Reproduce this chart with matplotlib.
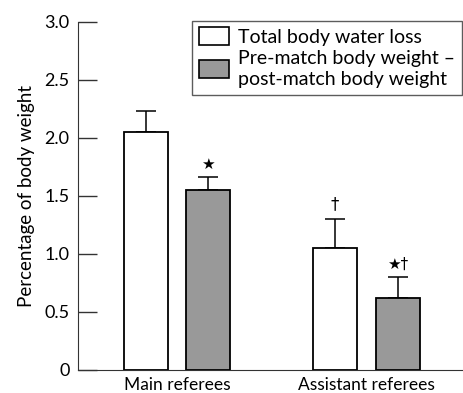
import matplotlib
matplotlib.use("Agg")
import matplotlib.pyplot as plt
from matplotlib.patches import Patch

groups = ['Main referees', 'Assistant referees']
total_loss = [2.05, 1.05]
total_err = [0.18, 0.25]
weight_diff = [1.55, 0.62]
weight_err = [0.11, 0.18]
marks_total = ['', '†']
marks_diff = ['★', '★†']

plt.rcParams['font.family'] = ['Lato', 'DejaVu Sans']

fig = plt.figure(figsize=(4.64, 3.93), dpi=100)
ax = fig.add_axes([78/464, 23/393, 386/464, 348/393])

x = [0, 1]
w = 0.232
off = 0.165
xw = [i - off for i in x]
xg = [i + off for i in x]

ax.bar(xw, total_loss, w, color='white', edgecolor='black', linewidth=1.3, zorder=2)
ax.bar(xg, weight_diff, w, color='#999999', edgecolor='black', linewidth=1.3, zorder=2)
ax.errorbar(xw, total_loss, yerr=[[0, 0], total_err], fmt='none', ecolor='black',
            elinewidth=1.1, capsize=7, capthick=1.1, zorder=1)
ax.errorbar(xg, weight_diff, yerr=[[0, 0], weight_err], fmt='none', ecolor='black',
            elinewidth=1.1, capsize=7, capthick=1.1, zorder=1)

for xi, v, e, m in zip(xw, total_loss, total_err, marks_total):
    if m:
        ax.text(xi, v + e + 0.05, m, ha='center', va='bottom', fontsize=12, family=['DejaVu Sans'])
for xi, v, e, m in zip(xg, weight_diff, weight_err, marks_diff):
    if m:
        ax.text(xi, v + e + 0.05, m, ha='center', va='bottom', fontsize=11, family=['DejaVu Sans'])

ax.set_xlim(-0.522, 1.515)
ax.set_ylim(0, 3.0)
ax.set_yticks([0, 0.5, 1.0, 1.5, 2.0, 2.5, 3.0])
ax.set_yticklabels(['0', '0.5', '1.0', '1.5', '2.0', '2.5', '3.0'])
ax.set_xticks(x)
ax.set_xticklabels(groups)
ax.tick_params(axis='y', direction='in', length=14, width=1, labelsize=13, pad=6, colors='#333333', labelcolor='black')
ax.tick_params(axis='x', length=0, labelsize=12.5, pad=5)
ax.set_ylabel('Percentage of body weight', fontsize=13.5, labelpad=7)
for s in ['top', 'right']:
    ax.spines[s].set_visible(False)
ax.spines['left'].set_color('#333333')
ax.spines['bottom'].set_color('#333333')

handles = [Patch(facecolor='white', edgecolor='black', linewidth=1.2),
           Patch(facecolor='#999999', edgecolor='black', linewidth=1.2)]
leg = ax.legend(handles, ['Total body water loss', 'Pre-match body weight –\npost-match body weight'],
                loc='upper left', bbox_to_anchor=(114/386, 1.004), fontsize=14, frameon=True,
                fancybox=False, edgecolor='#333333', handlelength=1.55, handleheight=1.05,
                handletextpad=0.45, labelspacing=0.2, borderpad=0.35, borderaxespad=0)
for t in leg.get_texts():
    t.set_linespacing(1.3)
leg.get_frame().set_linewidth(1.0)

plt.savefig('out.png', dpi=100)
